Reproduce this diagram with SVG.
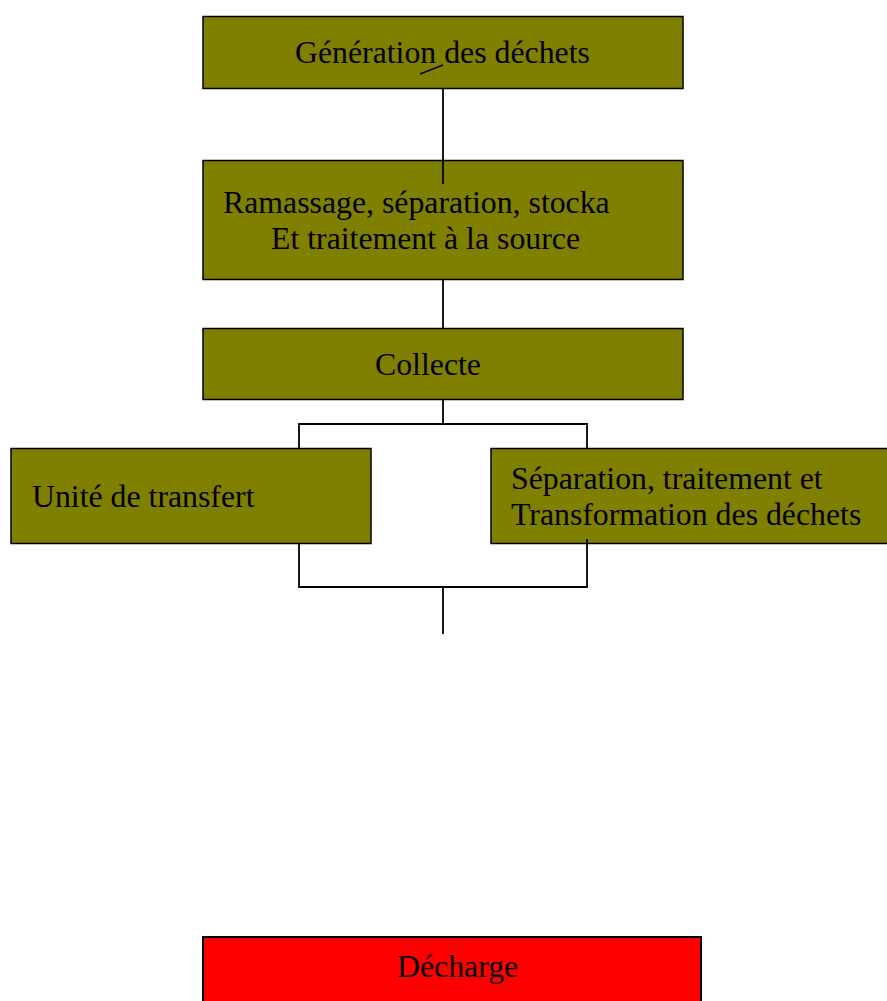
<svg xmlns="http://www.w3.org/2000/svg" width="887" height="1001" viewBox="0 0 887 1001">
  <style>
    .box { fill: #808000; stroke: #000; stroke-width: 1.5; }
    .end { fill: #FF0000; stroke: #000; stroke-width: 2; }
    .lbl { font-family: "Liberation Serif", "Times New Roman", serif; font-size: 31.8px; fill: #000; }
    .wire { fill: none; stroke: #000; stroke-width: 1.8; }
  </style>
  <rect width="887" height="1001" fill="#fff"/>

  <g id="node-generation">
    <rect class="box" x="203" y="16.5" width="480" height="72"/>
    <text class="lbl" x="295" y="63">Génération des déchets</text>
    <line x1="420" y1="74" x2="443" y2="65" stroke="#000" stroke-width="1.5"/>
  </g>

  <g id="node-ramassage">
    <rect class="box" x="203" y="160.5" width="480" height="119"/>
    <text class="lbl" x="223" y="213">Ramassage, séparation, stocka</text>
    <text class="lbl" x="271" y="249">Et traitement à la source</text>
  </g>

  <g id="node-collecte">
    <rect class="box" x="203" y="328.5" width="480" height="71"/>
    <text class="lbl" x="375" y="375">Collecte</text>
  </g>

  <g id="node-transfert">
    <rect class="box" x="11" y="448.5" width="360" height="95"/>
    <text class="lbl" x="32" y="507">Unité de transfert</text>
  </g>

  <g id="node-separation">
    <rect class="box" x="491" y="448.5" width="400" height="95"/>
    <text class="lbl" x="511" y="489">Séparation, traitement et</text>
    <text class="lbl" x="511" y="525">Transformation des déchets</text>
  </g>

  <g id="node-decharge">
    <rect class="end" x="203" y="937" width="498" height="70"/>
    <text class="lbl" x="397" y="977">Décharge</text>
  </g>

  <g id="connectors">
    <line class="wire" x1="443" y1="88.5" x2="443" y2="184"/>
    <line class="wire" x1="443" y1="279.5" x2="443" y2="328.5"/>
    <polyline class="wire" points="443,399.5 443,424"/>
    <polyline class="wire" points="299,448.5 299,424 587,424 587,448.5"/>
    <polyline class="wire" points="299,543.5 299,587 587,587 587,539"/>
    <line class="wire" x1="443" y1="587" x2="443" y2="634"/>
  </g>
</svg>
